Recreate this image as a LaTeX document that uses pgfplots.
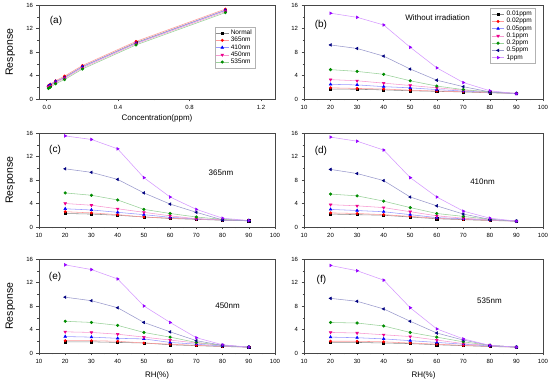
\documentclass[border=0pt]{standalone}
\usepackage{fontspec}
\setmainfont{Liberation Sans}
\usepackage{pgfplots}
\usepackage{pgfplotstable}
\pgfplotsset{compat=1.18}

\definecolor{cnavy}{RGB}{0,0,128}
\definecolor{cgreen}{RGB}{0,140,0}
\definecolor{cviolet}{RGB}{150,0,255}
\definecolor{axgray}{RGB}{70,70,70}

\pgfplotstableread{
C N a365 a410 a450 a535
0.01 2.1 2.3 2.2 2.0 1.8
0.02 2.3 2.5 2.4 2.2 2.0
0.05 2.9 3.1 3.0 2.8 2.6
0.1 3.7 3.9 3.6 3.5 3.3
0.2 5.5 5.7 5.5 5.3 5.1
0.5 9.6 9.8 9.5 9.4 9.2
1 15.1 15.3 15.1 14.9 14.7
}\tabA

\pgfplotstableread{
RH c1 c2 c3 c4 c5 c6 c7
20 1.7 1.9 2.5 3.3 5.0 9.2 14.6
30 1.65 1.8 2.4 3.1 4.7 8.6 13.9
40 1.55 1.7 2.1 2.7 4.2 7.3 12.6
50 1.4 1.5 1.9 2.3 3.1 5.1 8.8
60 1.3 1.35 1.6 1.9 2.2 3.2 5.3
70 1.2 1.25 1.35 1.5 1.6 2.1 2.8
80 1.05 1.1 1.15 1.2 1.2 1.2 1.4
90 0.95 0.95 0.95 0.95 0.95 0.9 0.9
}\tabB

\pgfplotstableread{
RH c1 c2 c3 c4 c5 c6 c7
20 2.3 2.6 3.1 4.0 5.8 9.9 15.5
30 2.2 2.4 2.9 3.7 5.4 9.3 14.9
40 2.0 2.1 2.5 3.1 4.6 8.1 13.3
50 1.7 1.7 2.1 2.5 3.0 5.8 8.4
60 1.45 1.5 1.65 1.9 2.3 3.9 5.1
70 1.3 1.35 1.4 1.4 1.7 2.5 3.0
80 1.15 1.2 1.2 1.25 1.3 1.2 1.5
90 1.05 1.1 1.1 1.1 1.1 1.1 1.1
}\tabC

\pgfplotstableread{
RH c1 c2 c3 c4 c5 c6 c7
20 2.2 2.4 3.0 3.8 5.6 9.8 15.3
30 2.1 2.3 2.8 3.6 5.3 9.1 14.6
40 2.0 2.1 2.6 3.3 4.4 7.9 13.1
50 1.7 1.8 2.1 2.6 3.3 5.1 8.4
60 1.4 1.5 1.6 1.9 2.3 3.6 5.1
70 1.25 1.3 1.4 1.5 1.8 2.2 2.7
80 1.1 1.15 1.2 1.2 1.3 1.3 1.5
90 1.0 1.0 1.0 1.0 1.0 1.0 1.0
}\tabD

\pgfplotstableread{
RH c1 c2 c3 c4 c5 c6 c7
20 1.9 2.1 2.8 3.6 5.4 9.5 15.0
30 1.9 2.1 2.7 3.5 5.2 8.9 14.2
40 1.8 2.0 2.5 3.2 4.7 7.7 12.6
50 1.7 1.7 2.4 2.7 3.5 5.2 8.0
60 1.4 1.5 1.8 2.2 2.7 3.6 5.2
70 1.25 1.3 1.5 1.7 1.8 2.1 2.6
80 1.1 1.15 1.2 1.3 1.3 1.3 1.4
90 1.0 1.0 1.0 1.0 1.0 1.0 1.0
}\tabE

\pgfplotstableread{
RH c1 c2 c3 c4 c5 c6 c7
20 1.8 2.0 2.7 3.5 5.2 9.3 14.9
30 1.8 2.0 2.6 3.4 5.1 8.8 14.0
40 1.7 1.9 2.4 3.1 4.6 7.5 12.4
50 1.6 1.7 2.1 2.8 3.5 5.4 7.7
60 1.4 1.5 1.8 2.2 2.7 3.4 4.1
70 1.25 1.3 1.5 1.6 1.9 2.2 2.4
80 1.1 1.15 1.2 1.3 1.3 1.3 1.3
90 1.0 1.0 1.0 1.0 1.0 1.0 1.0
}\tabF

\pgfplotsset{
  base/.style={
    scale only axis,
    axis line style={axgray, line width=0.5pt},
    every tick/.style={axgray, line width=0.4pt},
    tick align=outside, tick pos=left,
    major tick length=2.5pt, minor tick length=1.5pt,
    ymin=0, ymax=16, ytick={0,4,8,12,16}, minor y tick num=1,
    tick label style={font=\fontsize{6}{7}\selectfont},
    /pgf/number format/assume math mode=true,
    every axis plot/.append style={line width=0.55pt},
    legend style={draw=gray!60, font=\fontsize{6.5}{7}\selectfont, cells={anchor=west},
      inner sep=1pt, row sep=-2.8pt},
    legend image code/.code={\draw[mark repeat=2,mark phase=2] plot coordinates {(0cm,0cm) (0.22cm,0cm) (0.44cm,0cm)};},
  },
  rh/.style={xmin=10, xmax=100, xtick={10,20,...,100}, minor x tick num=1},
  ylab/.style={ylabel={Response}, ylabel style={font=\fontsize{10.5}{12}\selectfont, at={(axis description cs:-0.121,0.5)}, anchor=center}},
  s1/.style={draw=black!45, mark=square*, mark size=1.1pt, mark options={draw=black, fill=black, solid}},
  s2/.style={draw=red!40, mark=*, mark size=1.2pt, mark options={draw=red, fill=red, solid}},
  s3/.style={draw=blue!40, mark=triangle*, mark size=1.5pt, mark options={draw=blue, fill=blue, solid}},
  s4/.style={draw=magenta!40, mark=triangle*, mark size=1.5pt, mark options={draw=magenta, fill=magenta, rotate=180, solid}},
  s5/.style={draw=cgreen!40, mark=*, mark size=1.3pt, mark options={draw=cgreen, fill=cgreen, solid}},
  s6/.style={draw=cnavy!40, mark=triangle*, mark size=1.5pt, mark options={draw=cnavy, fill=cnavy, rotate=90, solid}},
  s7/.style={draw=cviolet!40, mark=triangle*, mark size=1.5pt, mark options={draw=cviolet, fill=cviolet, rotate=-90, solid}},
}

\newcommand{\rhplots}[1]{%
  \addplot[s1] table[x=RH,y=c1]{#1};
  \addplot[s2] table[x=RH,y=c2]{#1};
  \addplot[s3] table[x=RH,y=c3]{#1};
  \addplot[s4] table[x=RH,y=c4]{#1};
  \addplot[s5] table[x=RH,y=c5]{#1};
  \addplot[s6] table[x=RH,y=c6]{#1};
  \addplot[s7] table[x=RH,y=c7]{#1};
}

\begin{document}
\begin{tikzpicture}[x=1pt,y=1pt]
\useasboundingbox (0,0) rectangle (550,382);

% (a)
\begin{axis}[base, ylab, at={(39pt,283pt)}, anchor=south west, width=236pt, height=94pt,
  xmin=-0.043, xmax=1.278, xtick={0,0.4,0.8,1.2}, minor x tick num=1,
  xticklabel style={/pgf/number format/.cd, fixed, fixed zerofill, precision=1},
  xlabel={Concentration(ppm)},
  xlabel style={font=\fontsize{8}{9}\selectfont, at={(axis description cs:0.5,-0.202)}, anchor=center},
  legend style={at={(0.915,0.769)}, anchor=north east}]
  \addplot[s1] table[x=C,y=N]{\tabA};
  \addplot[s2] table[x=C,y=a365]{\tabA};
  \addplot[s3] table[x=C,y=a410]{\tabA};
  \addplot[s4] table[x=C,y=a450]{\tabA};
  \addplot[s5] table[x=C,y=a535]{\tabA};
  \legend{Normal,365nm,410nm,450nm,535nm}
  \node[font=\fontsize{10}{11}\selectfont] at (rel axis cs:0.072,0.83) {(a)};
\end{axis}

% (b)
\begin{axis}[base, rh, at={(304pt,283pt)}, anchor=south west, width=239pt, height=94pt,
  legend style={at={(0.967,0.968)}, anchor=north east}]
  \rhplots{\tabB}
  \legend{0.01ppm,0.02ppm,0.05ppm,0.1ppm,0.2ppm,0.5ppm,1ppm}
  \node[font=\fontsize{10}{11}\selectfont] at (rel axis cs:0.071,0.787) {(b)};
  \node[font=\fontsize{8}{9}\selectfont] at (rel axis cs:0.559,0.862) {Without irradiation};
\end{axis}

% (c)
\begin{axis}[base, rh, ylab, at={(39pt,155pt)}, anchor=south west, width=236pt, height=94pt]
  \rhplots{\tabC}
  \node[font=\fontsize{10}{11}\selectfont] at (rel axis cs:0.068,0.819) {(c)};
  \node[font=\fontsize{8}{9}\selectfont] at (rel axis cs:0.771,0.578) {365nm};
\end{axis}

% (d)
\begin{axis}[base, rh, at={(304pt,155pt)}, anchor=south west, width=239pt, height=94pt]
  \rhplots{\tabD}
  \node[font=\fontsize{10}{11}\selectfont] at (rel axis cs:0.071,0.809) {(d)};
  \node[font=\fontsize{8}{9}\selectfont] at (rel axis cs:0.747,0.482) {410nm};
\end{axis}

% (e)
\begin{axis}[base, rh, ylab, at={(39pt,29pt)}, anchor=south west, width=236pt, height=94pt,
  xlabel={RH(\%)},
  xlabel style={font=\fontsize{8}{9}\selectfont, at={(axis description cs:0.5,-0.234)}, anchor=center}]
  \rhplots{\tabE}
  \node[font=\fontsize{10}{11}\selectfont] at (rel axis cs:0.068,0.805) {(e)};
  \node[font=\fontsize{8}{9}\selectfont] at (rel axis cs:0.799,0.5) {450nm};
\end{axis}

% (f)
\begin{axis}[base, rh, at={(304pt,29pt)}, anchor=south west, width=239pt, height=94pt,
  xlabel={RH(\%)},
  xlabel style={font=\fontsize{8}{9}\selectfont, at={(axis description cs:0.5,-0.234)}, anchor=center}]
  \rhplots{\tabF}
  \node[font=\fontsize{10}{11}\selectfont] at (rel axis cs:0.073,0.777) {(f)};
  \node[font=\fontsize{8}{9}\selectfont] at (rel axis cs:0.776,0.556) {535nm};
\end{axis}
\end{tikzpicture}
\end{document}
